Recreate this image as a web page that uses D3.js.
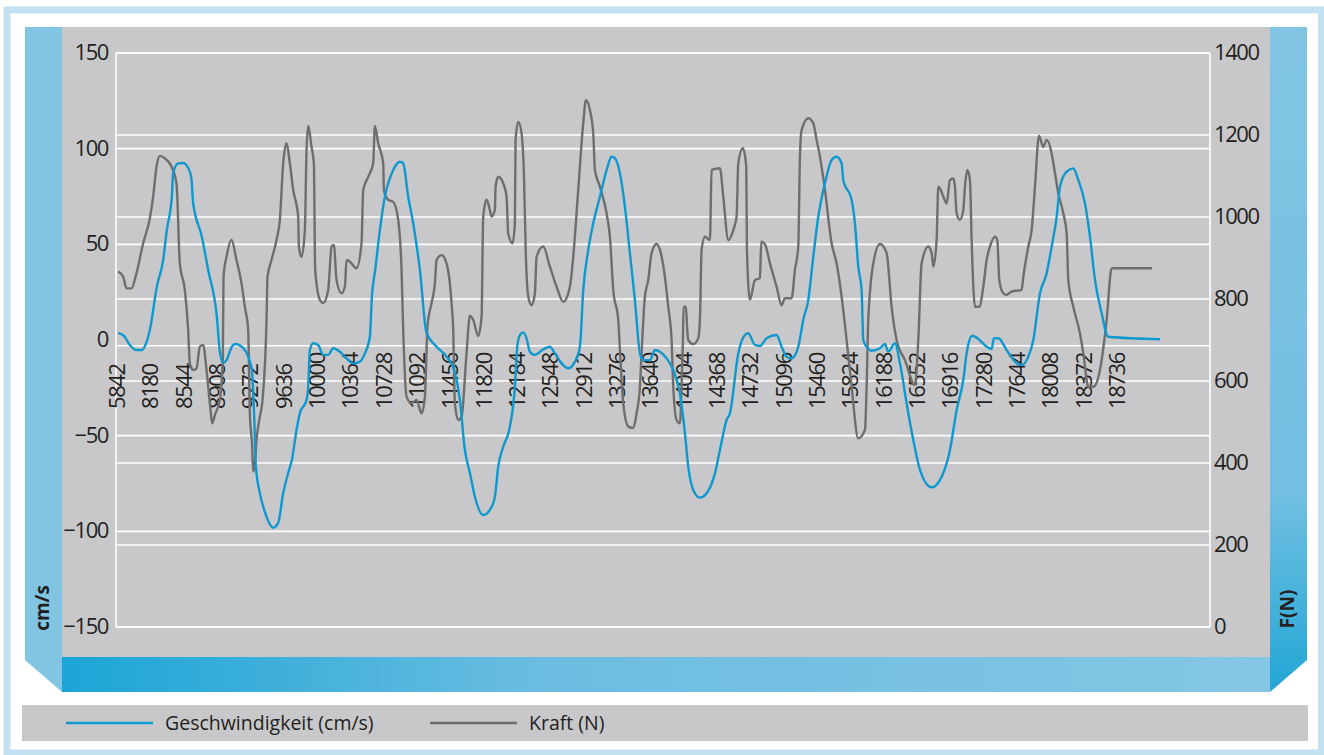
<!DOCTYPE html>
<html>
<head>
<meta charset="utf-8">
<script src="https://cdn.jsdelivr.net/npm/d3@7"></script>
<style>
  body { margin: 0; background: #fff; }
  svg { display: block; }
  text { font-family: "Open Sans", sans-serif; fill: #231f20; }
</style>
</head>
<body>
<svg id="chart" width="1324" height="755"></svg>
<script>
// Category labels, one every 10 samples
const xLabels = ["5842", "8180", "8544", "8908", "9272", "9636", "10000", "10364", "10728",
  "11092", "11456", "11820", "12184", "12548", "12912", "13276", "13640", "14004", "14368",
  "14732", "15096", "15460", "15824", "16188", "16552", "16916", "17280", "17644", "18008",
  "18372", "18736"];

const leftTicks = [-150, -100, -50, 0, 50, 100, 150];
const rightTicks = [0, 200, 400, 600, 800, 1000, 1200, 1400];

// Geschwindigkeit (cm/s): sample index / value
const speedIdx = [0.5, 2.3, 4, 5.9, 7.6, 8.9, 10, 12.1, 14, 15.1, 16.6, 17, 18.5, 20, 21.5, 22.4, 23, 25.6, 27.5, 30.1,
  31, 32, 33, 34.6, 35.6, 37.6, 39.5, 40.6, 41.3, 41.8, 43, 44.6, 47, 48.5, 50, 51.5, 52.6, 54, 55, 57,
  57.5, 58, 59, 60.5, 62, 63.5, 65, 67, 69, 71, 73, 74.5, 76, 76.6, 77.6, 79, 80.5, 83, 85, 86,
  87.5, 89, 91, 93, 96, 99, 101.5, 103, 104.5, 106, 107.5, 110, 112, 113.5, 114.5, 116, 118, 119.5, 120.2, 121,
  122, 123, 124, 125.5, 128, 130, 131.5, 133.5, 135.5, 137.5, 139, 140, 141.5, 143, 145, 147, 148.5, 149.5, 151, 152.5,
  154, 155.5, 157, 158, 160, 161.5, 163, 165, 167, 169, 170.5, 171.5, 173, 175, 177, 179.5, 181, 183, 184, 186.5,
  188.5, 189.5, 191.5, 193, 195, 198, 199.5, 201, 202.5, 204.5, 206, 207.5, 209, 210.5, 212.5, 214.5, 216, 217.5, 218, 220.5,
  221.5, 222.5, 223.5, 224, 225, 226.5, 229, 230.5, 231.5, 233.5, 235, 237, 239, 241, 244.5, 247, 250, 252, 254, 255,
  256.7, 262.5, 263.2, 264.5, 267, 270, 271.5, 273.5, 275, 277, 279, 280.5, 282, 283, 285, 287, 288.5, 290.5, 292, 293.5,
  295.5, 297.5, 313];
const speedVals = [3.7, 2, -2.6, -5.2, -5.2, -1.6, 5.2, 27.9, 41.8, 57.5, 74.9, 87.3, 92.3, 92.5, 89.9, 85.3, 71.6, 54, 36.6, 12.2,
  -6.1, -12, -10.5, -3.5, -2.1, -3.5, -8.7, -15.7, -40, -66, -80, -90.4, -98.1, -95.6, -80, -69.5, -62.7, -47, -38.2, -31.4,
  -24.4, -5.2, -1.7, -2.6, -7.8, -7.8, -4.3, -6.1, -9.6, -12.2, -11.3, -7, 1.7, 22.6, 36.6, 57.5, 74.9, 88.8, 93.2, 92.3,
  74.9, 61, 36.6, 3.7, -3.5, -8.7, -17.2, -31.4, -57.5, -69.5, -81.9, -91.5, -88.8, -81.9, -66.2, -55.8, -45.3, -24.4, -3.5, 2.6,
  4, 0.9, -6.1, -7.8, -4.9, -3.5, -7, -12.2, -14.8, -11.3, -3.5, 26.1, 47, 61, 74.9, 88.8, 95.8, 95, 87.1, 69.7,
  45.3, 20.9, -7, -10.5, -10.5, -5.2, -6.1, -9.6, -15.7, -27.9, -48.6, -66.2, -78.4, -82.4, -80.1, -69.7, -57.5, -41.8, -38.3, -7,
  2.6, 3.5, -2.6, -3.1, 0.9, 2.6, -3.5, -8.7, -9.6, -3.5, 10.5, 20.9, 43.5, 64.4, 81.9, 94.1, 95.8, 92.3, 83.6, 73.2,
  61, 38.3, 26.1, 0, -3.5, -5.6, -4.3, -2.1, -6.1, -1.7, -12.2, -33.1, -52.3, -67.9, -77, -73.2, -57.5, -36.6, -20.9, -7,
  2.2, -4.7, 0.9, 0.9, -5.2, -12.2, -13.1, -8.7, 0, 24.4, 34.9, 48.8, 64.4, 80.1, 88, 89.7, 83.6, 71.4, 54, 31.4,
  14, 1.7, 0.4];

// Kraft (N): sample index / value
const forceIdx = [0.5, 2, 3, 4.5, 6, 8, 10, 11, 12, 13, 14.5, 16.5, 18, 19, 20.5, 21.5, 22, 23, 24, 25,
  26, 27, 28, 28.7, 29.5, 31, 31.9, 32.1, 33, 34.5, 36, 37.5, 38.5, 39.5, 40, 40.7, 41, 41.5, 42, 43,
  43.7, 45, 45.3, 46.5, 48, 49, 50, 51, 52, 53, 54.5, 54.7, 55.5, 56.5, 57, 57.5, 58.5, 59.2, 59.6, 61,
  62, 63.5, 64.5, 65.2, 66, 67.5, 68.5, 69, 70, 72, 73.5, 74, 75.5, 77, 77.5, 78.5, 80, 80.2, 81.5, 83,
  84.5, 85.5, 86, 87, 88.5, 90, 91.5, 92.5, 93.3, 94.5, 95.5, 96, 97.5, 99, 100.5, 101, 101.5, 102.5, 103.5, 105,
  106, 107, 108.5, 109.5, 110, 111, 112, 112.5, 113.5, 113.7, 114.5, 116, 117, 117.5, 118.8, 119.5, 119.7, 120.5, 121.5, 122.2,
  122.8, 123.5, 124.5, 125.5, 126, 128, 130, 132, 134, 136, 137, 138.5, 140, 140.8, 142, 143, 143.5, 145, 147, 148,
  149, 150.5, 151, 152, 153.5, 155, 156, 157, 157.5, 158.5, 159.5, 160.5, 162, 163, 164.5, 165.5, 166.5, 167, 168, 169,
  169.5, 169.9, 170.1, 170.8, 171.2, 171.5, 173, 174.5, 175, 175.5, 176.5, 178, 178.5, 181, 182, 183.5, 185, 186, 186.5, 187.9,
  188.9, 189.1, 190, 191.5, 193, 193.4, 194.6, 196, 198, 199.5, 200.5, 202.5, 203.5, 204.5, 205, 205.5, 207.5, 209, 210, 211,
  212.5, 214.5, 216, 217.5, 219, 220.5, 222.5, 224.5, 225, 225.5, 227, 229, 231, 232.5, 234, 236.5, 239.5, 240.5, 241.5, 243.5,
  244.5, 245, 246, 246.5, 247, 248, 249, 250, 251, 251.5, 252, 253, 254, 254.5, 255.2, 256, 256.5, 257.5, 258.8, 260,
  261, 262, 263.5, 264.2, 264.8, 266, 267, 268.5, 271.5, 272, 273.5, 274.5, 275.5, 276.7, 278, 279, 280.3, 281.5, 282.5, 284,
  285, 285.5, 287, 289, 290, 291.5, 293, 295, 297, 298.5, 310.6];
const forceVals = [867, 854, 826, 826, 863, 936, 997, 1050, 1123, 1149, 1143, 1123, 1082, 887, 822, 724, 643, 627, 631, 684,
  688, 627, 546, 497, 517, 554, 659, 854, 903, 944, 895, 838, 781, 724, 521, 440, 379, 399, 456, 513,
  546, 749, 854, 895, 944, 993, 1131, 1180, 1131, 1066, 1001, 928, 903, 968, 1163, 1222, 1171, 1131, 871, 798,
  790, 822, 928, 932, 846, 814, 830, 895, 891, 875, 936, 1066, 1098, 1131, 1222, 1180, 1131, 1066, 1042, 1037,
  993, 871, 724, 562, 546, 554, 521, 562, 737, 790, 838, 895, 907, 887, 790, 724, 546, 505, 513, 668,
  759, 749, 710, 757, 1001, 1042, 1017, 1001, 1017, 1074, 1098, 1082, 1050, 960, 936, 985, 1188, 1232, 1204, 1107,
  903, 806, 785, 814, 903, 928, 879, 830, 793, 830, 903, 1066, 1229, 1285, 1261, 1204, 1115, 1074, 1009, 952,
  822, 749, 676, 546, 489, 485, 521, 586, 668, 806, 846, 912, 934, 920, 854, 781, 700, 586, 505, 497,
  586, 700, 781, 781, 724, 700, 690, 704, 749, 920, 952, 944, 1115, 1119, 1050, 944, 968, 1001, 1131, 1168,
  1123, 920, 798, 846, 851, 940, 932, 887, 830, 785, 802, 802, 871, 928, 1147, 1212, 1241, 1229, 1188, 1147,
  1066, 936, 887, 806, 700, 586, 460, 481, 586, 749, 887, 934, 912, 781, 700, 651, 590, 700, 887, 928,
  912, 879, 944, 1074, 1070, 1050, 1033, 1090, 1094, 1074, 1009, 993, 1017, 1074, 1115, 1090, 944, 781, 781, 830,
  895, 928, 952, 944, 846, 814, 810, 818, 822, 854, 928, 968, 1074, 1198, 1171, 1188, 1163, 1107, 1058, 1009,
  960, 846, 781, 716, 668, 586, 586, 627, 749, 875, 875];

const svg = d3.select("#chart");

// Outer frame
svg.append("rect")
  .attr("x", 7).attr("y", 10).attr("width", 1314.5).attr("height", 743)
  .attr("fill", "#fff").attr("stroke", "#c4e1f1").attr("stroke-width", 7);

const defs = svg.append("defs");
const gRight = defs.append("linearGradient").attr("id", "gRight")
  .attr("x1", 0).attr("y1", 0).attr("x2", 0).attr("y2", 1);
gRight.append("stop").attr("offset", 0).attr("stop-color", "#82c5e3");
gRight.append("stop").attr("offset", 0.7).attr("stop-color", "#72bfe1");
gRight.append("stop").attr("offset", 1).attr("stop-color", "#22a6d5");
const gBottom = defs.append("linearGradient").attr("id", "gBottom")
  .attr("x1", 0).attr("y1", 0).attr("x2", 1).attr("y2", 0);
gBottom.append("stop").attr("offset", 0).attr("stop-color", "#1ba5d6");
gBottom.append("stop").attr("offset", 0.4).attr("stop-color", "#6cbde1");
gBottom.append("stop").attr("offset", 1).attr("stop-color", "#84c6e4");

// Panels
svg.append("rect").attr("x", 62).attr("y", 27).attr("width", 1208).attr("height", 630).attr("fill", "#c8c8ca");
svg.append("polygon").attr("points", "25,27 62,27 62,692 25,660").attr("fill", "#82c5e3");
svg.append("polygon").attr("points", "1270,27 1307,27 1307,660 1270,692").attr("fill", "url(#gRight)");
svg.append("rect").attr("x", 62).attr("y", 657).attr("width", 1208).attr("height", 35).attr("fill", "url(#gBottom)");

// Scales
const x = d3.scaleLinear().domain([0, 328]).range([116.5, 1210]);
const yL = d3.scaleLinear().domain([-150, 150]).range([627, 53]);
const yR = d3.scaleLinear().domain([0, 1400]).range([627, 53]);

// Gridlines
const grid = svg.append("g").attr("stroke", "#fff").attr("stroke-width", 1.6);
grid.selectAll(".gl").data(leftTicks.filter(d => d !== 0)).join("line")
  .attr("x1", 116).attr("x2", 1210).attr("y1", d => yL(d)).attr("y2", d => yL(d));
grid.selectAll(".gr").data(rightTicks).join("line")
  .attr("x1", 116).attr("x2", 1210).attr("y1", d => yR(d)).attr("y2", d => yR(d));
grid.append("line").attr("x1", 116).attr("x2", 116).attr("y1", 53).attr("y2", 627);
grid.append("line").attr("x1", 1210).attr("x2", 1210).attr("y1", 53).attr("y2", 627);

// Category axis (crosses slightly below 0)
const xAxisY = yL(-3);
const xAxis = svg.append("g")
  .attr("transform", `translate(0,${xAxisY})`)
  .call(d3.axisBottom(x)
    .tickValues(d3.range(0, xLabels.length * 10, 10))
    .tickFormat((d, i) => xLabels[i])
    .tickSize(0).tickSizeOuter(0));
xAxis.select(".domain").attr("stroke", "#fff").attr("stroke-width", 1.6)
  .attr("d", `M116,0H1210`);
xAxis.selectAll("text")
  .attr("transform", "rotate(-90)")
  .attr("text-anchor", "start")
  .attr("x", -(409 - xAxisY))
  .attr("y", 0)
  .attr("dy", "0.36em")
  .style("font-size", "22px")
  .style("letter-spacing", "-1.4px")
  .attr("fill", "#231f20");

// Left axis
const leftAxis = svg.append("g").attr("transform", "translate(116,0)")
  .call(d3.axisLeft(yL).tickValues(leftTicks).tickSize(0).tickPadding(8));
leftAxis.select(".domain").remove();
leftAxis.selectAll("text").style("font-size", "22px").style("letter-spacing", "-1.4px")
  .attr("fill", "#231f20").attr("dy", "0.3em");

// Right axis
const rightAxis = svg.append("g").attr("transform", "translate(1210,0)")
  .call(d3.axisRight(yR).tickValues(rightTicks).tickFormat(d3.format("d")).tickSize(0).tickPadding(4));
rightAxis.select(".domain").remove();
rightAxis.selectAll("text").style("font-size", "22px").style("letter-spacing", "-1.4px")
  .attr("fill", "#231f20").attr("dy", "0.3em");

// Axis titles
svg.append("text").attr("transform", "translate(49,608) rotate(-90)")
  .attr("text-anchor", "middle").style("font-size", "19px").style("font-weight", "bold").text("cm/s");
svg.append("text").attr("transform", "translate(1294,609) rotate(-90)")
  .attr("text-anchor", "middle").style("font-size", "19px").style("font-weight", "bold").text("F(N)");

// Lines
const forceLine = d3.line()
  .x((d, i) => x(forceIdx[i]))
  .y(d => yR(d))
  .curve(d3.curveMonotoneX);
svg.append("path").datum(forceVals)
  .attr("fill", "none").attr("stroke", "#6e6e6e").attr("stroke-width", 2.4)
  .attr("stroke-linejoin", "round").attr("d", forceLine);

const speedLine = d3.line()
  .x((d, i) => x(speedIdx[i]))
  .y(d => yL(d))
  .curve(d3.curveMonotoneX);
svg.append("path").datum(speedVals)
  .attr("fill", "none").attr("stroke", "#0d98cf").attr("stroke-width", 2.4)
  .attr("stroke-linejoin", "round").attr("d", speedLine);

// Legend
const legend = svg.append("g");
legend.append("rect").attr("x", 22).attr("y", 705).attr("width", 1286).attr("height", 36).attr("fill", "#c8c8ca");
const legendItems = [
  { label: "Geschwindigkeit (cm/s)", color: "#0d98cf", x: 66 },
  { label: "Kraft (N)", color: "#6e6e6e", x: 430 }
];
legendItems.forEach(it => {
  legend.append("line").attr("x1", it.x).attr("x2", it.x + 87).attr("y1", 723).attr("y2", 723)
    .attr("stroke", it.color).attr("stroke-width", 2.6);
  legend.append("text").attr("x", it.x + 99).attr("y", 723).attr("dy", "0.35em")
    .style("font-size", "19.5px").text(it.label);
});
</script>
</body>
</html>
